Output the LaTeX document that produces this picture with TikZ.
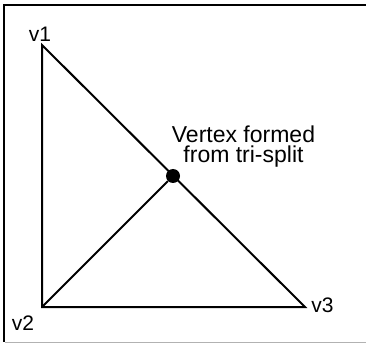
\documentclass[tikz,border=0pt]{standalone}
\usepackage{fontspec}
\setmainfont{Liberation Sans}
\begin{document}
\begin{tikzpicture}[x=1pt,y=-1pt,
  edge/.style={line width=2pt},
  lbl/.style={font=\fontsize{21}{21}\selectfont, anchor=base, inner sep=0pt},
  note/.style={font=\fontsize{23}{20}\selectfont, align=center, anchor=north, inner sep=0pt}]
\useasboundingbox (0,0) rectangle (366,344);
% frame
\draw[line width=2pt] (366,5) -- (4,5) -- (4,342);
\draw[black!30, line width=1pt] (5,342.5) -- (366,342.5);
% vertices
\coordinate (v1) at (42,45);
\coordinate (v2) at (42,307);
\coordinate (v3) at (305,307);
\draw[edge] (v1) -- (v2) -- (v3) -- cycle;
\node[circle, fill=black, minimum size=14pt, inner sep=0pt] (mid) at (173,176) {};
\draw[edge] (v2) -- (mid);
% labels
\node[lbl] (l1) at (40,42) {v1};
\node[lbl] (l2) at (23,330) {v2};
\node[lbl] (l3) at (322.5,312) {v3};
\node[note] (t) at (243.5,125.5) {Vertex formed\\from tri-split};
\end{tikzpicture}
\end{document}
